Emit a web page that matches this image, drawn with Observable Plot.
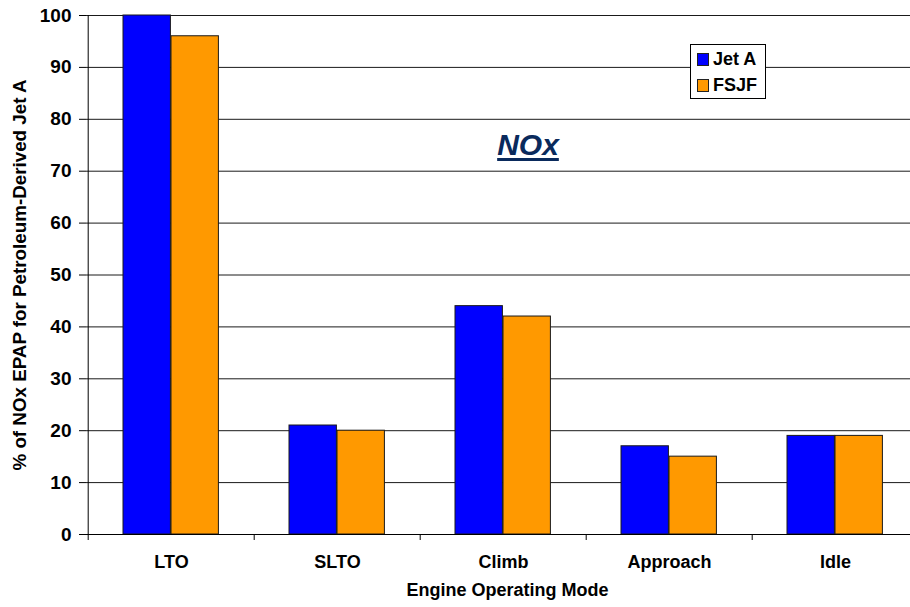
<!DOCTYPE html>
<html>
<head>
<meta charset="utf-8">
<script src="https://cdn.jsdelivr.net/npm/d3@7"></script>
<script src="https://cdn.jsdelivr.net/npm/@observablehq/plot@0.6"></script>
<style>
  html, body { margin: 0; padding: 0; background: #fff; }
  #wrap { position: relative; width: 910px; height: 607px; overflow: hidden; font-family: "Liberation Sans", Arial, sans-serif; }
  #title { position: absolute; left: 0; width: 1056px; top: 128px; text-align: center; font-size: 30px; font-weight: bold; font-style: italic; color: #0a2a5c; text-decoration: underline; text-decoration-thickness: 3px; text-underline-offset: 3px; }
  #legend { position: absolute; left: 690px; top: 44px; width: 74px; height: 53px; border: 1px solid #000; background: #fff; font-weight: bold; font-size: 18px; }
  .item { position: absolute; left: 6px; display: flex; align-items: center; }
  .sw { width: 10px; height: 11px; border: 1px solid #222; margin-right: 4px; }
</style>
</head>
<body>
<div id="wrap"></div>
<script>
const modes = ["LTO", "SLTO", "Climb", "Approach", "Idle"];
const seriesNames = ["Jet A", "FSJF"];
const jetA = [100, 21, 44, 17, 19];
const fsjf = [96, 20, 42, 15, 19];
const yTicks = [0, 10, 20, 30, 40, 50, 60, 70, 80, 90, 100];
const colors = ["#0000ff", "#ff9900"];

const rows = modes.flatMap((m, i) => [
  {mode: m, series: seriesNames[0], value: jetA[i]},
  {mode: m, series: seriesNames[1], value: fsjf[i]}
]);

const x0 = 86, x1 = 919;
const bw = (x1 - x0) / modes.length;

const chart = Plot.plot({
  width: 910,
  height: 607,
  marginLeft: 86,
  marginTop: 15,
  marginBottom: 73,
  marginRight: 0,
  style: {fontFamily: '"Liberation Sans", Arial, sans-serif', fontSize: "18px", fontWeight: "bold", color: "#000", background: "#fff"},
  x: {domain: modes, range: [x0, x1], padding: 0},
  y: {domain: [0, 100], range: [534, 15]},
  marks: [
    Plot.gridY(yTicks, {stroke: "#1a1a1a", strokeOpacity: 1, strokeWidth: 1}),
    Plot.barY(rows.filter(d => d.series === seriesNames[0]), {
      x: "mode", y: "value", fill: colors[0], stroke: "#1a1a1a", strokeWidth: 1,
      insetLeft: 35, insetRight: bw - 83
    }),
    Plot.barY(rows.filter(d => d.series === seriesNames[1]), {
      x: "mode", y: "value", fill: colors[1], stroke: "#1a1a1a", strokeWidth: 1,
      insetLeft: 83, insetRight: bw - 131
    }),
    Plot.ruleY([0], {stroke: "#000"}),
    Plot.ruleX(modes.slice(0, 1), {x: d => d, dx: -bw / 2, y1: 0, y2: 100, stroke: "#000"}),
    Plot.ruleX(modes, {x: d => d, dx: -bw / 2, y1: 0, y2: 0, insetBottom: -6, stroke: "#000"}),
    Plot.axisY({ticks: yTicks, tickSize: 7, tickPadding: 8, label: null, fontSize: 19, fontWeight: "bold"}),
    Plot.axisX({tickSize: 0, tickPadding: 21, label: null, fontSize: 18, fontWeight: "bold"}),
    Plot.text(["Engine Operating Mode"], {frameAnchor: "bottom", dx: 9, dy: 61, fontSize: 18, fontWeight: "bold"}),
    Plot.text(["% of NOx EPAP for Petroleum-Derived Jet A"], {frameAnchor: "left", textAnchor: "middle", rotate: -90, dx: -67, fontSize: 18.8, fontWeight: "bold"})
  ]
});

const wrap = document.getElementById("wrap");
wrap.appendChild(chart);

const title = document.createElement("div");
title.id = "title";
title.textContent = "NOx";
wrap.appendChild(title);

const legend = document.createElement("div");
legend.id = "legend";
seriesNames.forEach((name, i) => {
  const item = document.createElement("div");
  item.className = "item";
  item.style.top = (4 + i * 26) + "px";
  const sw = document.createElement("div");
  sw.className = "sw";
  sw.style.background = colors[i];
  const t = document.createElement("span");
  t.textContent = name;
  item.appendChild(sw);
  item.appendChild(t);
  legend.appendChild(item);
});
wrap.appendChild(legend);
</script>
</body>
</html>
